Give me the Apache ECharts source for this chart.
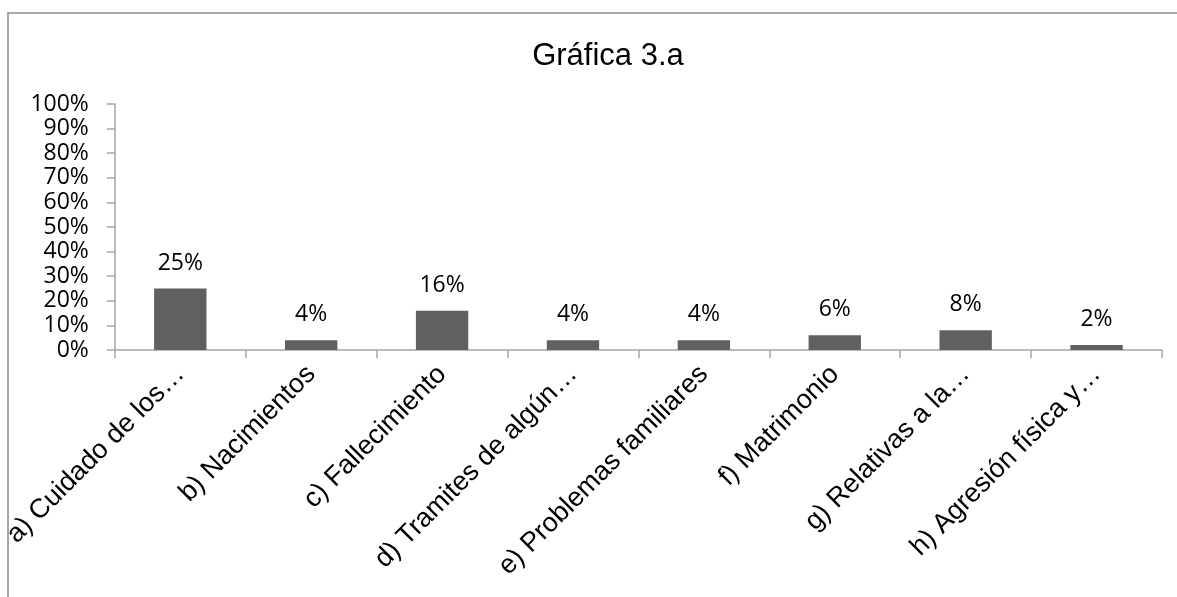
<!DOCTYPE html>
<html>
<head>
<meta charset="utf-8">
<script src="https://cdn.jsdelivr.net/npm/echarts@6/dist/echarts.min.js"></script>
<style>
html,body{margin:0;padding:0;background:#fff;}
#c{width:1177px;height:597px;}
</style>
</head>
<body>
<div id="c"></div>
<script>
const titleText = 'Gráfica 3.a';
const categories = ['a) Cuidado de los…','b) Nacimientos','c) Fallecimiento','d) Tramites de algún…','e) Problemas familiares','f) Matrimonio','g) Relativas a la…','h) Agresión física y…'];
const values = [25, 4, 16, 4, 4, 6, 8, 2];
const yTicks = [0,10,20,30,40,50,60,70,80,90,100];

const chart = echarts.init(document.getElementById('c'), null, {renderer:'canvas'});
chart.setOption({
  backgroundColor:'#fff',
  animation:false,
  graphic:[{
    type:'rect', shape:{x:8, y:13, width:1300, height:700},
    style:{fill:'none', stroke:'#8c8c8c', lineWidth:1.5}, silent:true
  }],
  title:{
    text:titleText, left:603, top:36, textAlign:'center',
    textStyle:{fontFamily:'Liberation Sans', fontSize:31, fontWeight:'normal', color:'#000'}
  },
  grid:{left:113, right:15, top:104, bottom:247, containLabel:false},
  xAxis:{
    type:'category', data:categories,
    axisLine:{lineStyle:{color:'#a6a6a6', width:1.5}},
    axisTick:{show:true, alignWithLabel:false, length:8, lineStyle:{color:'#a6a6a6', width:1.5}},
    axisLabel:{rotate:45, interval:0, margin:20, color:'#000', fontFamily:'Liberation Sans', fontSize:27}
  },
  yAxis:{
    type:'value', min:0, max:100, interval:10,
    splitLine:{show:false},
    axisLine:{show:true, lineStyle:{color:'#a6a6a6', width:1.5}},
    axisTick:{show:true, length:8, lineStyle:{color:'#a6a6a6', width:1.5}},
    axisLabel:{margin:26, color:'#000', fontFamily:'Open Sans', fontSize:23, formatter:v=>v+'%'}
  },
  series:[{
    type:'bar', data:values, barWidth:'40%',
    itemStyle:{color:'#606060'},
    label:{show:true, position:'top', distance:14, color:'#000', fontFamily:'Open Sans', fontSize:23, formatter:p=>p.value+'%'}
  }]
});
</script>
</body>
</html>
